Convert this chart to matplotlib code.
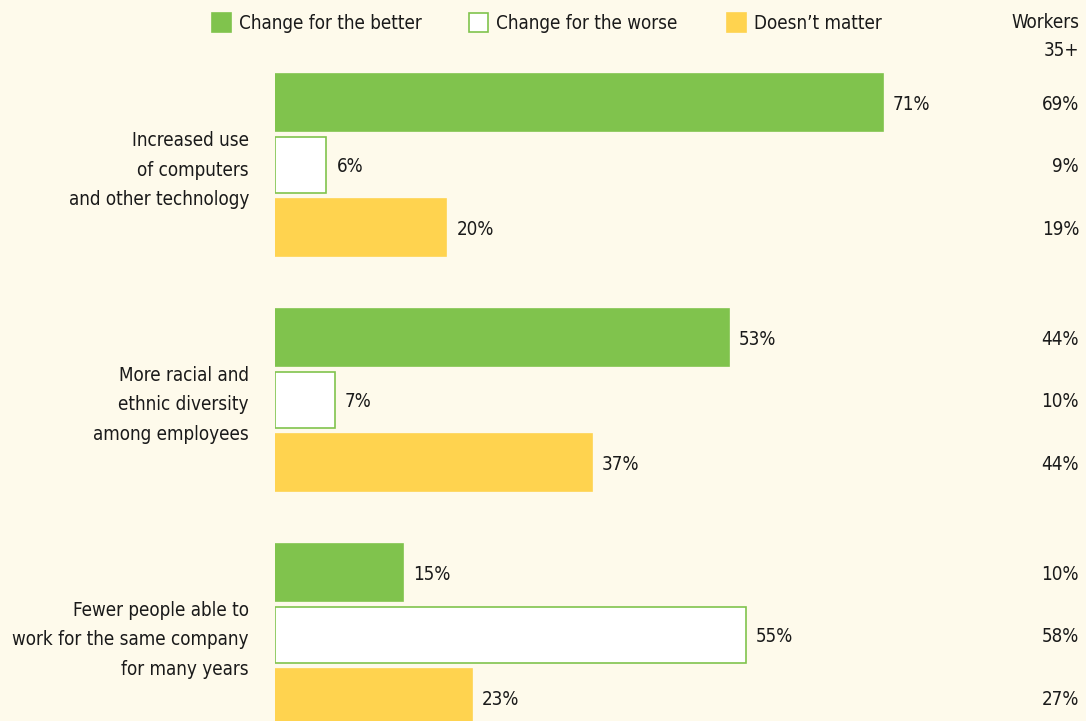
import matplotlib.pyplot as plt
from matplotlib.patches import Rectangle

categories = ['Increased use\nof computers\nand other technology',
              'More racial and\nethnic diversity\namong employees',
              'Fewer people able to\nwork for the same company\nfor many years']
series = ['Change for the better', 'Change for the worse', 'Doesn\u2019t matter']
better = [71, 53, 15]
worse = [6, 7, 55]
nomatter = [20, 37, 23]
workers35 = [[69, 9, 19], [44, 10, 44], [10, 58, 27]]

bg = '#FEFAEB'
green = '#80C34D'
yellow = '#FFD34F'
ink = '#1a1a1a'

plt.rcParams['font.family'] = ['DejaVu Sans']
plt.rcParams['font.stretch'] = 'condensed'

W, H = 1086, 721
fig = plt.figure(figsize=(W / 100, H / 100), dpi=100, facecolor=bg)
x0 = 275 / W
ax = fig.add_axes([x0, 0, 1 - x0, 1])
ax.set_facecolor('none')
pxpct = 8.563
ax.set_xlim(0, (W - 275) / pxpct)
pitch = 62.5
ax.set_ylim((H - 102.5) / pitch, -102.5 / pitch)
ax.axis('off')

gap = 235 / pitch
vals = [better, worse, nomatter]
fills = [green, 'white', yellow]
edges = [green, green, yellow]
fs = 13.5
for g in range(len(categories)):
    for j in range(3):
        y = g * gap + j
        v = vals[j][g]
        ax.barh(y, v, height=0.91, color=fills[j], edgecolor=edges[j], linewidth=1.2)
        ax.annotate(f'{v}%', (v, y), xytext=(10, -2), textcoords='offset pixels',
                    ha='left', va='center', fontsize=fs, color=ink)
        ax.annotate(f'{workers35[g][j]}%', (1, y), xycoords=('axes fraction', 'data'),
                    xytext=(-7, -2), textcoords='offset pixels',
                    ha='right', va='center', fontsize=fs, color=ink)
    ax.annotate(categories[g], (0, g * gap + 1), xytext=(-26, -5), textcoords='offset pixels',
                ha='right', va='center', fontsize=fs, color=ink, linespacing=1.72)

# legend
lx = [212, 469, 727]
for j in range(3):
    fig.patches.append(Rectangle((lx[j] / W, 1 - 32 / H), 19 / W, 19 / H,
                                 transform=fig.transFigure, facecolor=fills[j],
                                 edgecolor=edges[j], linewidth=1.2))
    fig.text((lx[j] + 27) / W, 1 - 23.5 / H, series[j], ha='left', va='center',
             fontsize=fs, color=ink)
fig.text(1079 / W, 1 - 36.5 / H, 'Workers\n35+', ha='right', va='center',
         fontsize=fs, color=ink, linespacing=1.65)

fig.savefig('out.png', dpi=100, facecolor=bg)
